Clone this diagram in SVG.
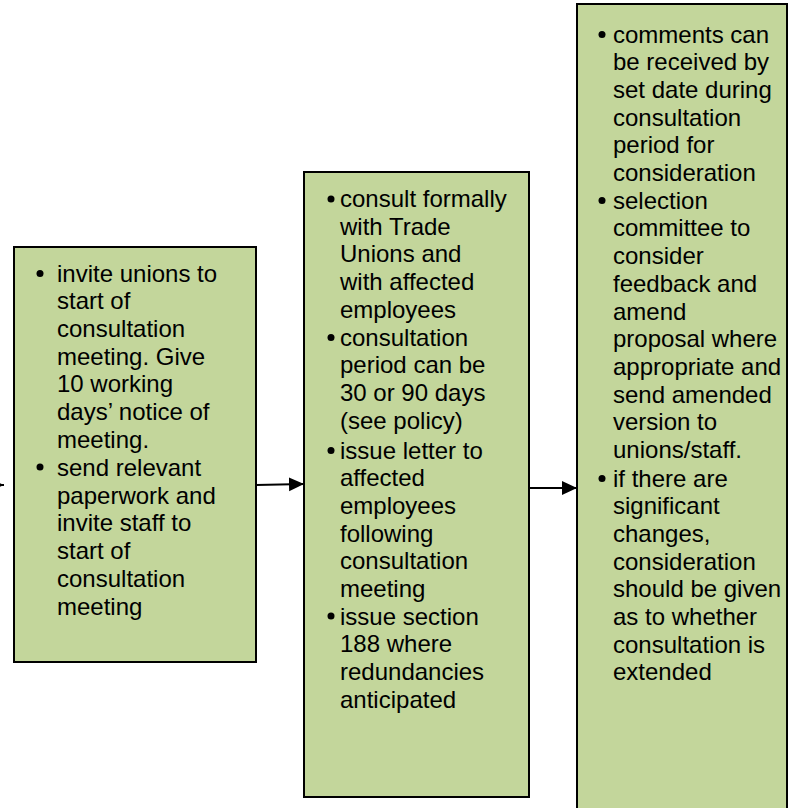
<svg xmlns="http://www.w3.org/2000/svg" width="789" height="808" viewBox="0 0 789 808">
<defs>
<style>
.box{fill:#C3D69B;stroke:#000;stroke-width:2}
.t{font-family:"Liberation Sans",Arial,sans-serif;font-size:24px;fill:#000}
.b{fill:#000}
.conn{stroke:#000;stroke-width:2;fill:none}
</style>
<marker id="ah" markerUnits="userSpaceOnUse" markerWidth="16" markerHeight="16" refX="15" refY="7" orient="auto">
<path d="M0,0 L15,7 L0,14 Z" fill="#000"/>
</marker>
</defs>
<rect width="789" height="808" fill="#fff"/>
<g id="connectors">
<line class="conn" x1="-30" y1="485" x2="4" y2="485" marker-end="url(#ah)"/>
<line class="conn" x1="256" y1="485" x2="304" y2="484" marker-end="url(#ah)"/>
<line class="conn" x1="529" y1="488" x2="577" y2="488" marker-end="url(#ah)"/>
</g>
<g id="node1">
<rect class="box" x="14" y="247" width="242" height="415"/>
<circle class="b" cx="40" cy="273.5" r="3.5"/>
<circle class="b" cx="40" cy="467" r="3.5"/>
<text class="t">
<tspan x="57" y="281.5">invite unions to</tspan>
<tspan x="57" y="309.2">start of</tspan>
<tspan x="57" y="336.9">consultation</tspan>
<tspan x="57" y="364.6">meeting. Give</tspan>
<tspan x="57" y="392.3">10 working</tspan>
<tspan x="57" y="420">days’ notice of</tspan>
<tspan x="57" y="447.7">meeting.</tspan>
<tspan x="57" y="476">send relevant</tspan>
<tspan x="57" y="503.7">paperwork and</tspan>
<tspan x="57" y="531.4">invite staff to</tspan>
<tspan x="57" y="559.1">start of</tspan>
<tspan x="57" y="586.8">consultation</tspan>
<tspan x="57" y="614.5">meeting</tspan>
</text>
</g>
<g id="node2">
<rect class="box" x="304" y="172" width="225" height="625"/>
<circle class="b" cx="331" cy="199" r="3.5"/>
<circle class="b" cx="331" cy="337.5" r="3.5"/>
<circle class="b" cx="331" cy="450.5" r="3.5"/>
<circle class="b" cx="331" cy="616" r="3.5"/>
<text class="t">
<tspan x="340" y="207">consult formally</tspan>
<tspan x="340" y="234.7">with Trade</tspan>
<tspan x="340" y="262.4">Unions and</tspan>
<tspan x="340" y="290.1">with affected</tspan>
<tspan x="340" y="317.8">employees</tspan>
<tspan x="340" y="345.5">consultation</tspan>
<tspan x="340" y="373.2">period can be</tspan>
<tspan x="340" y="400.9">30 or 90 days</tspan>
<tspan x="340" y="428.6">(see policy)</tspan>
<tspan x="340" y="458.5">issue letter to</tspan>
<tspan x="340" y="486.2">affected</tspan>
<tspan x="340" y="513.9">employees</tspan>
<tspan x="340" y="541.6">following</tspan>
<tspan x="340" y="569.3">consultation</tspan>
<tspan x="340" y="597">meeting</tspan>
<tspan x="340" y="624.7">issue section</tspan>
<tspan x="340" y="652.4">188 where</tspan>
<tspan x="340" y="680.1">redundancies</tspan>
<tspan x="340" y="707.8">anticipated</tspan>
</text>
</g>
<g id="node3">
<rect class="box" x="577" y="4" width="210" height="820"/>
<circle class="b" cx="602" cy="34.5" r="3.5"/>
<circle class="b" cx="602" cy="200.5" r="3.5"/>
<circle class="b" cx="602" cy="478.5" r="3.5"/>
<text class="t">
<tspan x="613" y="42.5">comments can</tspan>
<tspan x="613" y="70.2">be received by</tspan>
<tspan x="613" y="97.9">set date during</tspan>
<tspan x="613" y="125.6">consultation</tspan>
<tspan x="613" y="153.3">period for</tspan>
<tspan x="613" y="181">consideration</tspan>
<tspan x="613" y="208.7">selection</tspan>
<tspan x="613" y="236.4">committee to</tspan>
<tspan x="613" y="264.1">consider</tspan>
<tspan x="613" y="291.8">feedback and</tspan>
<tspan x="613" y="319.5">amend</tspan>
<tspan x="613" y="347.2">proposal where</tspan>
<tspan x="613" y="374.9">appropriate and</tspan>
<tspan x="613" y="402.6">send amended</tspan>
<tspan x="613" y="430.3">version to</tspan>
<tspan x="613" y="458">unions/staff.</tspan>
<tspan x="613" y="486.5">if there are</tspan>
<tspan x="613" y="514.2">significant</tspan>
<tspan x="613" y="541.9">changes,</tspan>
<tspan x="613" y="569.6">consideration</tspan>
<tspan x="613" y="597.3">should be given</tspan>
<tspan x="613" y="625">as to whether</tspan>
<tspan x="613" y="652.7">consultation is</tspan>
<tspan x="613" y="680.4">extended</tspan>
</text>
</g>
</svg>
